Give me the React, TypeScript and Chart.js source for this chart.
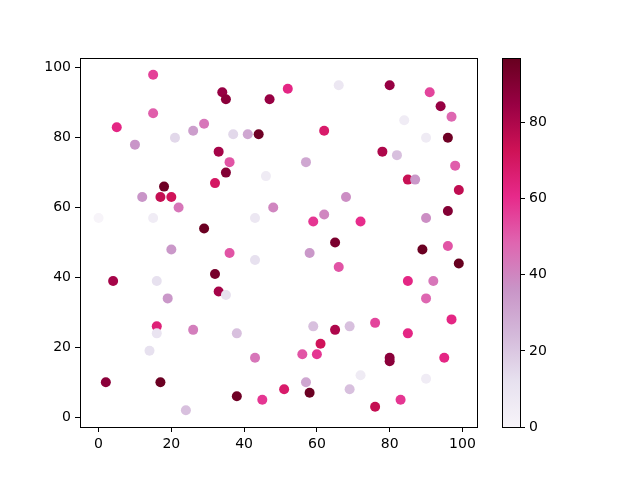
import { Chart, registerables, ChartItem, Plugin } from "chart.js";
import { useEffect, useRef } from "react";

Chart.register(...registerables);
Chart.defaults.font.family = "DejaVu Sans";
Chart.defaults.font.size = 14;
Chart.defaults.color = "#000";

const xValues = [
  0, 15, 5, 15, 10, 21, 26, 29, 34, 35, 37, 41, 44, 47, 52, 66, 80, 91, 94, 97,
  84, 90, 96, 62, 33, 36, 35, 32, 18, 17, 20, 22, 12, 15, 29, 46, 43, 48, 57, 59,
  62, 68, 78, 82, 85, 87, 90, 96, 98, 99, 72, 65, 58, 66, 89, 96, 99, 92, 85, 90,
  97, 85, 76, 80, 80, 72, 90, 95, 83, 76, 69, 57, 58, 51, 45, 38, 43, 38, 26, 16,
  16, 14, 24, 17, 2, 4, 16, 19, 20, 32, 33, 35, 36, 43, 56, 60, 61, 65, 59, 69,
];
const yValues = [
  57, 98, 83, 87, 78, 80, 82, 84, 93, 91, 81, 81, 81, 91, 94, 95, 95, 93, 89, 86,
  85, 80, 80, 82, 76, 73, 70, 67, 66, 63, 63, 60, 63, 57, 54, 69, 57, 60, 73, 56,
  58, 63, 76, 75, 68, 68, 57, 59, 72, 65, 56, 50, 47, 43, 48, 49, 44, 39, 39, 34,
  28, 24, 27, 17, 16, 12, 11, 17, 5, 3, 8, 10, 7, 8, 5, 6, 17, 24, 25, 26,
  24, 19, 2, 10, 10, 39, 39, 34, 48, 41, 36, 35, 47, 45, 18, 18, 21, 25, 26, 26,
];
const colorValues = [
  0, 56, 62, 50, 36, 15, 33, 44, 85, 88, 15, 30, 95, 85, 62, 8, 85, 55, 85, 48,
  5, 6, 95, 68, 82, 52, 90, 70, 95, 75, 72, 44, 36, 5, 96, 6, 8, 40, 30, 58,
  40, 38, 80, 22, 74, 35, 38, 90, 50, 76, 60, 92, 35, 52, 96, 52, 97, 44, 62, 48,
  62, 62, 55, 88, 88, 6, 5, 62, 58, 75, 22, 30, 96, 68, 58, 95, 44, 22, 42, 65,
  10, 12, 22, 96, 88, 82, 12, 35, 35, 93, 82, 12, 52, 12, 52, 58, 72, 80, 22, 22,
];
const axisTicks = [0, 20, 40, 60, 80, 100];
const colorbarTicks = [0, 20, 40, 60, 80];

// PuRd colormap stops
const puRdStops = [
  "#f7f4f9", "#e7e1ef", "#d4b9da", "#c994c7", "#df65b0",
  "#e7298a", "#ce1256", "#980043", "#67001f",
];

const hexToRgb = (hex: string) => [
  parseInt(hex.slice(1, 3), 16),
  parseInt(hex.slice(3, 5), 16),
  parseInt(hex.slice(5, 7), 16),
];

const puRd = (t: number) => {
  const tt = Math.min(1, Math.max(0, t));
  const pos = tt * (puRdStops.length - 1);
  const i = Math.min(Math.floor(pos), puRdStops.length - 2);
  const f = pos - i;
  const a = hexToRgb(puRdStops[i]);
  const b = hexToRgb(puRdStops[i + 1]);
  const c = a.map((v, k) => Math.round(v + (b[k] - v) * f));
  return `rgb(${c[0]}, ${c[1]}, ${c[2]})`;
};

const cMin = Math.min(...colorValues);
const cMax = Math.max(...colorValues);

const framePlugin: Plugin = {
  id: "frame",
  afterDraw(chart) {
    const { ctx, chartArea } = chart;
    ctx.save();
    ctx.strokeStyle = "#000";
    ctx.lineWidth = 1;
    ctx.strokeRect(
      Math.round(chartArea.left) + 0.5,
      Math.round(chartArea.top) + 0.5,
      Math.round(chartArea.right - chartArea.left),
      Math.round(chartArea.bottom - chartArea.top)
    );
    ctx.restore();
  },
};

const tickGrid = {
  display: true,
  drawOnChartArea: false,
  drawTicks: true,
  tickLength: 5,
  color: "#000",
};

export default function App() {
  const mainRef = useRef<HTMLCanvasElement>(null);
  const barRef = useRef<HTMLCanvasElement>(null);

  useEffect(() => {
    const points = xValues.map((x, i) => ({ x, y: yValues[i] }));
    const pointColors = colorValues.map((c) => puRd((c - cMin) / (cMax - cMin)));

    const scatter = new Chart(mainRef.current as ChartItem, {
      type: "scatter",
      data: {
        datasets: [
          {
            data: points,
            backgroundColor: pointColors,
            borderWidth: 0,
            pointRadius: 5,
          },
        ],
      },
      options: {
        animation: false,
        responsive: false,
        layout: { padding: { left: 0, top: 58, right: 13, bottom: 0 } },
        plugins: { legend: { display: false }, tooltip: { enabled: false } },
        scales: {
          x: {
            type: "linear",
            min: -5.1,
            max: 104,
            grid: tickGrid,
            border: { display: false },
            ticks: { padding: 4, maxRotation: 0 },
            afterBuildTicks: (scale) => {
              scale.ticks = axisTicks.map((value) => ({ value }));
            },
            afterFit: (scale) => {
              scale.height = 53;
            },
          },
          y: {
            type: "linear",
            min: -2.8,
            max: 102.8,
            grid: tickGrid,
            border: { display: false },
            ticks: { padding: 4 },
            afterBuildTicks: (scale) => {
              scale.ticks = axisTicks.map((value) => ({ value }));
            },
            afterFit: (scale) => {
              scale.width = 80;
            },
          },
        },
      },
      plugins: [framePlugin],
    });

    const colorbar = new Chart(barRef.current as ChartItem, {
      type: "bar",
      data: {
        labels: [""],
        datasets: [
          {
            data: [cMax],
            barPercentage: 1,
            categoryPercentage: 1,
            borderWidth: 0,
            backgroundColor: (ctx) => {
              const area = ctx.chart.chartArea;
              if (!area) return puRdStops[4];
              const g = ctx.chart.ctx.createLinearGradient(0, area.bottom, 0, area.top);
              puRdStops.forEach((s, i) => g.addColorStop(i / (puRdStops.length - 1), s));
              return g;
            },
          },
        ],
      },
      options: {
        animation: false,
        responsive: false,
        layout: { padding: { left: 12, top: 58, right: 0, bottom: 53 } },
        plugins: { legend: { display: false }, tooltip: { enabled: false } },
        scales: {
          x: { display: false },
          y: {
            position: "right",
            min: cMin,
            max: cMax,
            grid: tickGrid,
            border: { display: false },
            ticks: { padding: 4 },
            afterBuildTicks: (scale) => {
              scale.ticks = colorbarTicks.map((value) => ({ value }));
            },
            afterFit: (scale) => {
              scale.width = 120;
            },
          },
        },
      },
      plugins: [framePlugin],
    });

    return () => {
      scatter.destroy();
      colorbar.destroy();
    };
  }, []);

  return (
    <div style={{ position: "absolute", left: 0, top: 0, width: 640, height: 480, background: "#fff" }}>
      <canvas ref={mainRef} width={490} height={480} style={{ position: "absolute", left: 0, top: 0 }} />
      <canvas ref={barRef} width={150} height={480} style={{ position: "absolute", left: 490, top: 0 }} />
    </div>
  );
}
